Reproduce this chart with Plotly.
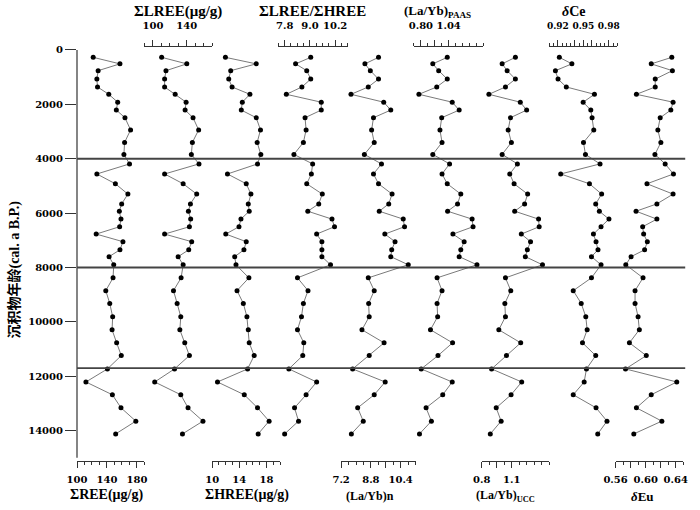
import plotly.graph_objects as go

# 沉积物年龄 (cal. a B.P.) des échantillons, du haut vers le bas
age = [270, 510, 760, 1070, 1360, 1630, 1920, 2210, 2490, 2940, 3400, 3840,
       4190, 4560, 4920, 5300, 5660, 5930, 6220, 6500, 6770, 7050, 7350, 7600,
       7900, 8380, 8850, 9320, 9810, 10290, 10770, 11240, 11730, 12210, 12680,
       13160, 13650, 14120]

ree = [121.6, 157.3, 128.2, 126.5, 127.4, 142.4, 154.3, 152.5, 164.0, 171.5, 163.5, 162.6,
       170.1, 126.5, 151.2, 167.9, 159.6, 156.5, 158.7, 156.9, 125.6, 161.3, 157.3, 142.8,
       149.0, 148.1, 138.4, 143.7, 147.6, 146.8, 152.9, 159.1, 140.6, 111.9, 147.2, 158.7,
       178.5, 151.6]
lree = [110.3, 140.0, 115.4, 113.8, 113.8, 126.3, 139.2, 138.0, 147.4, 154.0, 146.6, 145.4,
        154.4, 113.8, 135.7, 151.7, 144.3, 141.9, 144.6, 143.1, 113.8, 145.8, 142.3, 129.8,
        135.7, 133.3, 124.3, 128.6, 132.9, 131.8, 137.6, 143.1, 125.5, 102.1, 132.9, 141.5,
        159.1, 134.9]
hree = [11.95, 16.49, 12.73, 12.44, 12.93, 15.56, 14.44, 14.29, 16.49, 17.12, 16.63, 17.17,
        16.68, 12.25, 15.02, 15.71, 15.32, 15.46, 14.24, 13.95, 12.00, 15.02, 14.68, 13.32,
        13.51, 15.41, 13.66, 14.59, 15.12, 15.32, 15.46, 16.19, 15.22, 10.78, 14.73, 16.68,
        18.39, 16.78]
lree_hree = [9.04, 8.32, 8.85, 9.04, 8.62, 7.88, 9.54, 9.54, 8.77, 8.82, 8.69, 8.24,
             9.13, 9.07, 8.85, 9.59, 9.42, 8.90, 10.05, 10.17, 9.32, 9.57, 9.57, 9.57,
             9.98, 8.41, 8.91, 8.69, 8.60, 8.41, 8.71, 8.66, 8.00, 9.32, 8.82, 8.27,
             8.46, 7.80]
layb_n = [9.21, 8.48, 8.77, 9.21, 8.66, 7.73, 9.49, 9.87, 8.94, 8.84, 8.98, 8.45,
          9.37, 8.94, 9.21, 9.94, 9.76, 9.25, 10.54, 10.61, 9.55, 10.10, 9.92, 9.87,
          10.81, 8.66, 8.98, 8.68, 8.71, 8.32, 9.51, 8.71, 7.82, 9.57, 8.98, 8.09,
          8.39, 7.75]
layb_paas = [1.028, 0.903, 0.954, 1.028, 0.937, 0.783, 1.071, 1.131, 0.980, 0.965, 0.983, 0.903,
             1.048, 0.983, 1.028, 1.145, 1.117, 1.031, 1.243, 1.251, 1.077, 1.174, 1.145, 1.131,
             1.285, 0.940, 0.983, 0.940, 0.945, 0.883, 1.074, 0.948, 0.803, 1.071, 0.989, 0.845,
             0.891, 0.788]
layb_ucc = [1.136, 1.004, 1.054, 1.136, 1.037, 0.872, 1.185, 1.248, 1.087, 1.064, 1.096, 1.004,
            1.156, 1.080, 1.123, 1.258, 1.228, 1.129, 1.367, 1.373, 1.195, 1.287, 1.255, 1.235,
            1.406, 1.037, 1.090, 1.031, 1.037, 0.971, 1.189, 1.047, 0.899, 1.199, 1.093, 0.945,
            0.994, 0.886]
d_ce = [0.9217, 0.9365, 0.9171, 0.9202, 0.9299, 0.9631, 0.9498, 0.9588, 0.9603, 0.9623, 0.9502, 0.9525,
        0.9697, 0.9233, 0.9572, 0.9716, 0.9646, 0.9689, 0.9802, 0.9709, 0.9619, 0.9650, 0.9673, 0.9596,
        0.9709, 0.9596, 0.9381, 0.9475, 0.9529, 0.9545, 0.9490, 0.9646, 0.9537, 0.9510, 0.9381, 0.9650,
        0.9779, 0.9670]
d_eu = [0.6347, 0.6074, 0.6355, 0.6127, 0.6127, 0.5877, 0.6364, 0.6334, 0.6193, 0.6162, 0.6202, 0.6123,
        0.6259, 0.6369, 0.6017, 0.6364, 0.6149, 0.5872, 0.6149, 0.5960, 0.5973, 0.6022, 0.5986, 0.5806,
        0.5736, 0.5965, 0.5859, 0.5859, 0.5899, 0.5916, 0.5784, 0.6008, 0.5732, 0.6413, 0.6074, 0.5877,
        0.6215, 0.5842]

# limites des périodes (lignes horizontales)
boundaries = [4000, 8000, 11700]
age_ticks = [0, 2000, 4000, 6000, 8000, 10000, 12000, 14000]
age_labels = ["0", "2000", "4000", "6000", "8000", "10000", "12000", "14000"]

W, H = 700, 510
ML, MR, MT, MB = 77, 11, 47, 49
PW, PH = W - ML - MR, H - MT - MB

# un panneau par indicateur : pixels de l'axe, côté, échelle, graduations
panels = [
    dict(vals=ree, title="ΣREE(μg/g)", side="bottom", px=(77, 145), rng=(100, 190), step=10,
         major=[100, 120, 140, 160, 180], text=["100", "", "140", "", "180"], tx=107, ty=495, tsize=14),
    dict(vals=lree, title="ΣLREE(μg/g)", side="top", px=(145, 213.3), rng=(90, 170), step=10,
         major=[100, 120, 140, 160], text=["100", "", "140", ""], tx=179, ty=11, tsize=15),
    dict(vals=hree, title="ΣHREE(μg/g)", side="bottom", px=(213.3, 281.7), rng=(10, 20), step=1,
         major=[10, 12, 14, 16, 18, 20], text=["10", "", "14", "", "18", ""], tx=248, ty=495, tsize=14),
    dict(vals=lree_hree, title="ΣLREE/ΣHREE", side="top", px=(280, 350), rng=(7.5, 10.8), step=0.3,
         major=[7.8, 8.4, 9.0, 9.6, 10.2], text=["7.8", "", "9.0", "", "10.2"], tx=314, ty=11, tsize=15),
    dict(vals=layb_n, title="(La/Yb)n", side="bottom", px=(343.3, 418.3), rng=(7.2, 11.2), step=0.4,
         major=[7.2, 8.0, 8.8, 9.6, 10.4, 11.2], text=["7.2", "", "8.8", "", "10.4", ""], tx=372, ty=496, tsize=12),
    dict(vals=layb_paas, title="(La/Yb)<sub>PAAS</sub>", side="top", px=(416.7, 486.7), rng=(0.74, 1.34),
         step=0.06, major=[0.80, 0.92, 1.04, 1.16, 1.28], text=["0.80", "", "1.04", "", ""], tx=440, ty=11, tsize=13),
    dict(vals=layb_ucc, title="(La/Yb)<sub>UCC</sub>", side="bottom", px=(485, 553.3), rng=(0.8, 1.475),
         step=0.075, major=[0.8, 0.95, 1.1, 1.25, 1.4], text=["0.8", "", "1.1", "", ""], tx=509, ty=496, tsize=12),
    dict(vals=d_ce, title="<i>δ</i>Ce", side="top", px=(553.3, 621.7), rng=(0.91, 0.99), step=0.005,
         major=[0.91, 0.92, 0.93, 0.94, 0.95, 0.96, 0.97, 0.98, 0.99],
         text=["", "0.92", "", "", "0.95", "", "", "0.98", ""], tx=578, ty=11, tsize=14, fsize=9),
    dict(vals=d_eu, title="<i>δ</i>Eu", side="bottom", px=(620, 688.3), rng=(0.56, 0.65), step=0.01,
         major=[0.56, 0.58, 0.60, 0.62, 0.64], text=["0.56", "", "0.60", "", "0.64"], tx=647, ty=496, tsize=13),
]

AXC = "#333333"
title_family = "Liberation Serif, DejaVu Serif"


def tick_font(size=10):
    return dict(family="DejaVu Serif", size=size, color="black", weight="bold")


def px_x(p):
    return (p - ML) / PW


def px_y(p):
    return (H - MB - p) / PH


fig = go.Figure()
layout = {}
annotations = []

for i, p in enumerate(panels, start=1):
    key = "x" if i == 1 else f"x{i}"
    fig.add_trace(go.Scatter(
        x=p["vals"], y=age, xaxis=key, yaxis="y",
        mode="lines+markers",
        line=dict(color="#7a7a7a", width=1),
        marker=dict(color="black", size=5),
        showlegend=False, cliponaxis=False,
    ))
    lo, hi = p["rng"]
    n = round((hi - lo) / p["step"])
    minor_vals = [lo + k * p["step"] for k in range(n + 1)]
    layout["xaxis" if i == 1 else f"xaxis{i}"] = dict(
        domain=[max(0, px_x(p["px"][0])), min(1, px_x(p["px"][1]))],
        range=[lo, hi], anchor="y", side=p["side"],
        showline=True, linecolor=AXC, linewidth=1.2,
        showgrid=False, zeroline=False,
        tickmode="array", tickvals=p["major"], ticktext=p["text"], tickangle=0,
        ticks="outside", ticklen=6, tickwidth=1, tickcolor=AXC,
        tickfont=tick_font(p.get("fsize", 10)),
        ticklabelstandoff=3 if p["side"] == "bottom" else 7,
        minor=dict(tickmode="array", tickvals=minor_vals, ticks="outside",
                   ticklen=3, tickwidth=1, tickcolor=AXC, showgrid=False),
    )
    annotations.append(dict(
        text=f"<b>{p['title']}</b>", x=px_x(p["tx"]), y=px_y(p["ty"]),
        xref="paper", yref="paper", showarrow=False,
        xanchor="center", yanchor="middle",
        font=dict(family=title_family, size=p["tsize"], color="black"),
    ))

annotations.append(dict(
    text="<b>沉积物年龄(cal. a B.P.)</b>", x=px_x(13), y=px_y(270),
    xref="paper", yref="paper", showarrow=False, textangle=-90,
    xanchor="center", yanchor="middle",
    font=dict(family="Liberation Serif, Noto Sans CJK SC", size=14, color="black"),
))

shapes = [dict(type="line", xref="paper", yref="y", x0=0, x1=0, y0=0, y1=15000,
               line=dict(color=AXC, width=1.2))]
for b in boundaries:
    shapes.append(dict(type="line", xref="paper", yref="y", x0=0, x1=1.002, y0=b, y1=b,
                       line=dict(color="#444444", width=1.8)))

# pixel 47 -> -110 ans, pixel 461 -> 15116 ans
layout["yaxis"] = dict(
    domain=[0, 1], range=[15116, -110], anchor="x",
    showline=False, showgrid=False, zeroline=False,
    tickmode="array", tickvals=age_ticks, ticktext=age_labels,
    ticks="outside", ticklen=11, tickwidth=1.2, tickcolor=AXC,
    tickfont=tick_font(),
)

fig.update_layout(
    width=W, height=H,
    margin=dict(l=ML, r=MR, t=MT, b=MB, pad=0),
    paper_bgcolor="white", plot_bgcolor="white",
    font=dict(family="DejaVu Serif", color="black"),
    annotations=annotations, shapes=shapes,
    **layout,
)

# pas de marge de page autour du graphique, pas de barre d'outils
fig.write_html("out.html", config={"displayModeBar": False},
               post_script="document.body.style.margin='0px';")
